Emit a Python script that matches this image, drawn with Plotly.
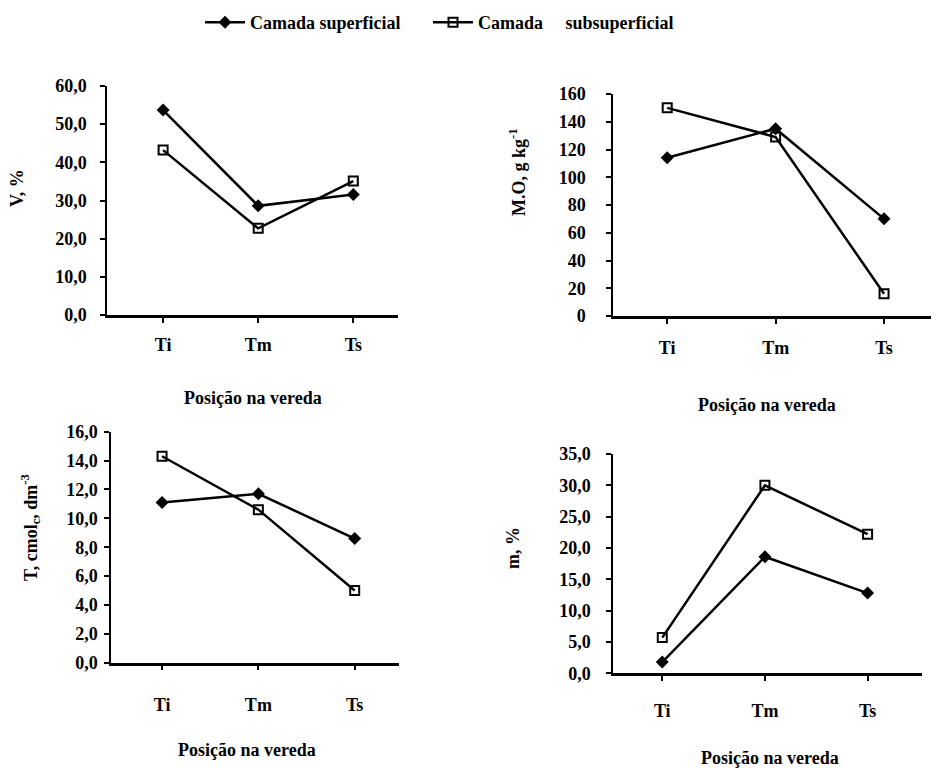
import plotly.graph_objects as go

positions = ["Ti", "Tm", "Ts"]
series_names = ["Camada superficial", "Camada\u00a0\u00a0\u00a0\u00a0\u00a0subsuperficial"]

v_sup = [53.7, 28.6, 31.6]
v_sub = [43.2, 22.7, 35.1]
mo_sup = [114, 135, 70]
mo_sub = [150, 129, 16]
t_sup = [11.1, 11.7, 8.6]
t_sub = [14.3, 10.6, 5.0]
m_sup = [1.8, 18.6, 12.8]
m_sub = [5.7, 30.0, 22.2]

y_titles = ["V, %", "M.O, g kg<sup>-1</sup>", "T, cmol<sub>c</sub>, dm<sup>-3</sup>", "m, %"]
x_title = "Posição na vereda"

OFF = 8  # page body margin
W, H = 939 - OFF, 768 - OFF
FONT = "Times New Roman, Liberation Serif, DejaVu Serif, serif"


def px(x):
    return (x - OFF) / W


def py(y):
    return 1 - (y - OFF) / H


panels = [
    (v_sup, v_sub, (107, 398), (315, 86), [0, 60], 10, ".1f", [-0.59, 2.47]),
    (mo_sup, mo_sub, (613, 935), (316, 94), [0, 160], 20, "d", [-0.5, 2.47]),
    (t_sup, t_sub, (111, 399), (662.7, 431.7), [0, 16], 2, ".1f", [-0.53, 2.46]),
    (m_sup, m_sub, (613, 922), (673.3, 454), [0, 35], 5, ".1f", [-0.48, 2.53]),
]
x_standoff = [7, 9, 19, 14]
y_standoff = [10, 17, 3, 12]
ytitle_pos = [(17, 188), (517, 172), (30, 528), (513, 548)]
xtitle_pos = [(253, 398), (767, 405), (247, 750), (770, 758)]

leg_font = dict(family=FONT, size=18, color="black", weight="bold")
fig = go.Figure()
layout = dict(
    width=W, height=H, margin=dict(l=0, r=0, t=0, b=0, autoexpand=False),
    paper_bgcolor="white", plot_bgcolor="white",
    font=dict(family=FONT, size=18, color="black", weight="bold"),
    separators=",.",
    showlegend=True,
    legend=dict(orientation="h", x=px(200), xanchor="left", y=py(4), yanchor="top",
                font=leg_font, itemwidth=40, bgcolor="rgba(0,0,0,0)"),
    legend2=dict(orientation="h", x=px(428), xanchor="left", y=py(4), yanchor="top",
                 font=leg_font, itemwidth=40, bgcolor="rgba(0,0,0,0)"),
)
annotations = []
for i, (sup, sub, xd, yd, yr, dt, fmt, xr) in enumerate(panels):
    n = "" if i == 0 else str(i + 1)
    xa, ya = "x" + n, "y" + n
    fig.add_trace(go.Scatter(x=positions, y=sup, xaxis=xa, yaxis=ya, mode="lines+markers",
                             name=series_names[0], legendgroup="a", showlegend=(i == 0),
                             legend="legend",
                             line=dict(color="black", width=2.5),
                             marker=dict(symbol="diamond", size=10, color="black")))
    fig.add_trace(go.Scatter(x=positions, y=sub, xaxis=xa, yaxis=ya, mode="lines+markers",
                             name=series_names[1], legendgroup="b", showlegend=(i == 0),
                             legend="legend2",
                             line=dict(color="black", width=2.5),
                             marker=dict(symbol="square-open", size=9, color="black",
                                         line=dict(width=2, color="black"))))
    layout["xaxis" + n] = dict(
        domain=[px(xd[0]), px(xd[1])], anchor=ya, type="category", range=xr,
        showline=True, linecolor="black", linewidth=2.5, showgrid=False, zeroline=False,
        ticks="outside", ticklen=5, tickwidth=1.5, tickcolor="black",
        ticklabelstandoff=x_standoff[i], fixedrange=True,
    )
    layout["yaxis" + n] = dict(
        domain=[py(yd[0]), py(yd[1])], anchor=xa, range=yr, dtick=dt, tick0=0,
        tickformat=fmt, showline=True, linecolor="black", linewidth=1.5, showgrid=False,
        zeroline=False, ticks="outside", ticklen=5, tickwidth=1.5, tickcolor="black",
        ticklabelstandoff=y_standoff[i], fixedrange=True,
    )
    tx, ty = ytitle_pos[i]
    annotations.append(dict(text=y_titles[i], x=px(tx), y=py(ty), xref="paper", yref="paper",
                            showarrow=False, textangle=-90, xanchor="center", yanchor="middle"))
    tx, ty = xtitle_pos[i]
    annotations.append(dict(text=x_title, x=px(tx), y=py(ty), xref="paper", yref="paper",
                            showarrow=False, xanchor="center", yanchor="middle"))
layout["annotations"] = annotations
fig.update_layout(**layout)
fig.write_html("out.html")
